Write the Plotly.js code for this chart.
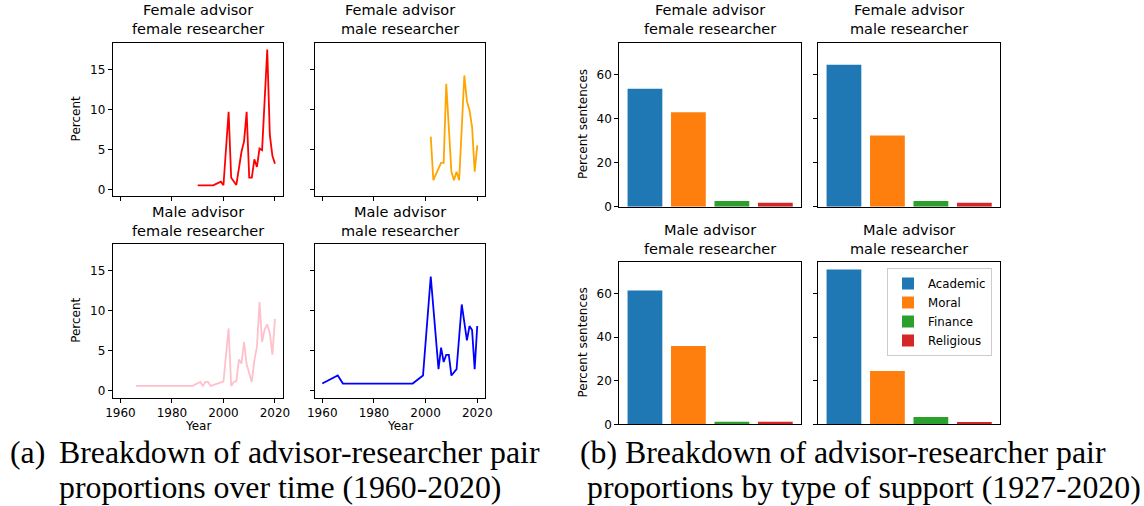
<!DOCTYPE html>
<html>
<head>
<meta charset="utf-8">
<script src="https://cdn.plot.ly/plotly-3.0.1.min.js"></script>
<style>
html,body{margin:0;padding:0;background:#fff;}
#chart{width:1144px;height:506px;}
</style>
</head>
<body>
<div id="chart"></div>
<script>
// ---------- Data ----------
// (a) line charts: year / percent
const ffYears = [1990, 1996, 1998, 1999, 2000, 2002, 2003, 2005, 2007, 2008, 2009, 2010, 2011, 2012, 2013, 2014, 2015, 2016, 2017, 2018, 2019, 2020];
const ffVals  = [0.5, 0.5, 0.8, 0.95, 0.5, 9.7, 1.45, 0.55, 4.7, 6.0, 9.7, 1.45, 1.45, 3.75, 2.8, 5.1, 4.9, 12.0, 17.5, 6.8, 4.2, 3.2];

const fmYears = [2002, 2003, 2006, 2007, 2008, 2010, 2011, 2012, 2013, 2015, 2016, 2017, 2018, 2019, 2020];
const fmVals  = [6.6, 1.15, 3.3, 3.3, 13.2, 2.2, 1.15, 2.2, 1.15, 14.25, 11.0, 9.9, 7.8, 2.2, 5.5];

const mfYears = [1966, 1988, 1991, 1992, 1993, 1994, 1995, 2000, 2002, 2003, 2004, 2005, 2006, 2007, 2008, 2009, 2011, 2012, 2013, 2014, 2015, 2016, 2017, 2018, 2019, 2020];
const mfVals  = [0.6, 0.6, 1.1, 0.6, 1.1, 1.1, 0.6, 1.15, 7.8, 0.6, 1.1, 1.2, 3.9, 3.4, 6.1, 3.3, 1.1, 3.8, 5.5, 11.1, 6.1, 7.7, 8.3, 7.2, 4.5, 9.0];

const mmYears = [1960, 1966, 1968, 1995, 1999, 2002, 2005, 2006, 2007, 2008, 2009, 2010, 2012, 2014, 2016, 2017, 2018, 2019, 2020];
const mmVals  = [0.9, 1.9, 0.9, 0.9, 1.9, 14.3, 2.7, 5.4, 3.6, 4.5, 4.5, 1.9, 2.7, 10.8, 6.3, 8.1, 7.6, 2.7, 8.1];

const yearTicks = [1960, 1980, 2000, 2020];
const pctTicks = [0, 5, 10, 15];

// (b) bar charts: percent sentences by support type
const supportTypes = ['Academic', 'Moral', 'Finance', 'Religious'];
const ffBars = [53.6, 42.9, 2.6, 1.8];
const fmBars = [64.4, 32.3, 2.6, 1.8];
const mfBars = [61.4, 35.9, 1.2, 1.2];
const mmBars = [71.0, 24.4, 3.3, 1.0];
const barTicks = [0, 20, 40, 60];

const pairTitles = [
  ['Female advisor', 'female researcher'],
  ['Female advisor', 'male researcher'],
  ['Male advisor', 'female researcher'],
  ['Male advisor', 'male researcher']
];
const captionA1 = 'Breakdown of advisor-researcher pair';
const captionA2 = 'proportions over time (1960-2020)';
const captionB1 = '(b) Breakdown of advisor-researcher pair';
const captionB2 = 'proportions by type of support (1927-2020)';

// ---------- Styles / layout ----------
const W = 1144, H = 506;
const FONT = 'DejaVu Sans';
const lineColors = ['#ff0000', '#ffa500', '#ffc0cb', '#0000ff'];
const barColors = ['#1f77b4', '#ff7f0e', '#2ca02c', '#d62728'];

function dx(a, b) { return [a / W, b / W]; }
function dy(top, bottom) { return [1 - bottom / H, 1 - top / H]; }
function px(x) { return x / W; }
function py(y) { return 1 - y / H; }

// axes boxes in pixels: [left, right, top, bottom]
const boxes = [
  [112.7, 282.7, 42.5, 196.3],
  [314.5, 485.0, 42.5, 196.3],
  [112.7, 282.7, 244.0, 397.7],
  [314.5, 485.0, 244.0, 397.7],
  [619.3, 801.0, 42.5, 206.7],
  [818.3, 1000.0, 42.5, 206.7],
  [619.3, 801.0, 261.7, 424.3],
  [818.3, 1000.0, 261.7, 424.3]
];

const baseAxis = {
  showline: true, mirror: true, linecolor: '#000', linewidth: 1,
  ticks: 'outside', ticklen: 4, tickwidth: 1, tickcolor: '#000',
  showgrid: false, zeroline: false, fixedrange: true,
  tickfont: {family: FONT, size: 12, color: '#000'}
};

const lineSeries = [[ffYears, ffVals], [fmYears, fmVals], [mfYears, mfVals], [mmYears, mmVals]];
const barSeries = [ffBars, fmBars, mfBars, mmBars];

const traces = [];
const layout = {
  width: W, height: H,
  margin: {l: 0, r: 0, t: 0, b: 0},
  paper_bgcolor: '#fff', plot_bgcolor: '#fff',
  showlegend: true,
  barmode: 'overlay',
  legend: {
    x: px(887), y: py(268), xanchor: 'left', yanchor: 'top',
    bgcolor: '#fff', bordercolor: '#cccccc', borderwidth: 1,
    font: {family: FONT, size: 11.8, color: '#000'},
    traceorder: 'normal', tracegroupgap: 0, itemwidth: 30
  },
  annotations: []
};

// line subplots (1-4)
for (let i = 0; i < 4; i++) {
  const n = i + 1;
  const b = boxes[i];
  const xk = n === 1 ? 'xaxis' : 'xaxis' + n;
  const yk = n === 1 ? 'yaxis' : 'yaxis' + n;
  const xa = n === 1 ? 'x' : 'x' + n;
  const ya = n === 1 ? 'y' : 'y' + n;
  layout[xk] = Object.assign({}, baseAxis, {
    domain: dx(b[0], b[1]), anchor: ya, range: [1957, 2023],
    tickvals: yearTicks, showticklabels: i >= 2
  });
  layout[yk] = Object.assign({}, baseAxis, {
    domain: dy(b[2], b[3]), anchor: xa, range: [-0.875, 18.375],
    tickvals: pctTicks, showticklabels: i % 2 === 0
  });
  traces.push({
    type: 'scatter', mode: 'lines',
    x: lineSeries[i][0], y: lineSeries[i][1],
    xaxis: xa, yaxis: ya,
    line: {color: lineColors[i], width: 1.8},
    showlegend: false, hoverinfo: 'x+y'
  });
}

// bar subplots (5-8)
for (let i = 0; i < 4; i++) {
  const n = i + 5;
  const b = boxes[n - 1];
  const xk = 'xaxis' + n, yk = 'yaxis' + n;
  const xa = 'x' + n, ya = 'y' + n;
  layout[xk] = Object.assign({}, baseAxis, {
    domain: dx(b[0], b[1]), anchor: ya, type: 'category',
    categoryorder: 'array', categoryarray: supportTypes,
    range: [-0.59, 3.59], ticks: '', showticklabels: false
  });
  layout[yk] = Object.assign({}, baseAxis, {
    domain: dy(b[2], b[3]), anchor: xa, range: [0, 74.55],
    tickvals: barTicks, showticklabels: i % 2 === 0
  });
  for (let c = 0; c < supportTypes.length; c++) {
    traces.push({
      type: 'bar', x: [supportTypes[c]], y: [barSeries[i][c]],
      xaxis: xa, yaxis: ya, width: 0.8,
      marker: {color: barColors[c], line: {width: 0}},
      name: supportTypes[c], legendgroup: supportTypes[c],
      showlegend: i === 3, hoverinfo: 'x+y'
    });
  }
}

// subplot titles (two lines in one text)
const titleFont = {family: FONT, size: 14.5, color: '#000'};
for (let k = 0; k < 8; k++) {
  const b = boxes[k];
  const t = pairTitles[k % 4];
  const cx = (b[0] + b[1]) / 2;
  layout.annotations.push({
    xref: 'paper', yref: 'paper', x: px(cx), y: py(b[2] - 3),
    xanchor: 'center', yanchor: 'bottom', showarrow: false,
    text: t[0] + '<br>' + t[1], font: titleFont
  });
}

// axis labels
const labFont = {family: FONT, size: 12, color: '#000'};
[[76, (42.5 + 196.3) / 2, 'Percent'], [76, (244 + 397.7) / 2, 'Percent'],
 [582.5, (42.5 + 206.7) / 2, 'Percent sentences'], [582.5, (261.7 + 424.3) / 2, 'Percent sentences']]
.forEach(function (a) {
  layout.annotations.push({
    xref: 'paper', yref: 'paper', x: px(a[0]), y: py(a[1]),
    xanchor: 'center', yanchor: 'middle', textangle: -90, showarrow: false,
    text: a[2], font: labFont
  });
});
[(112.7 + 282.7) / 2, (314.5 + 485) / 2].forEach(function (cx) {
  layout.annotations.push({
    xref: 'paper', yref: 'paper', x: px(cx), y: py(426),
    xanchor: 'center', yanchor: 'middle', showarrow: false,
    text: 'Year', font: labFont
  });
});

// captions
const capFont = {family: 'Liberation Serif', size: 31.8, color: '#000'};
[[8, 452, '(a)'], [57, 452, captionA1], [57, 487, captionA2],
 [578, 452, captionB1], [585, 487, captionB2]].forEach(function (c) {
  layout.annotations.push({
    xref: 'paper', yref: 'paper', x: px(c[0]), y: py(c[1]),
    xanchor: 'left', yanchor: 'middle', showarrow: false,
    text: c[2], font: capFont
  });
});

Plotly.newPlot('chart', traces, layout, {displayModeBar: false, staticPlot: true});
</script>
</body>
</html>
